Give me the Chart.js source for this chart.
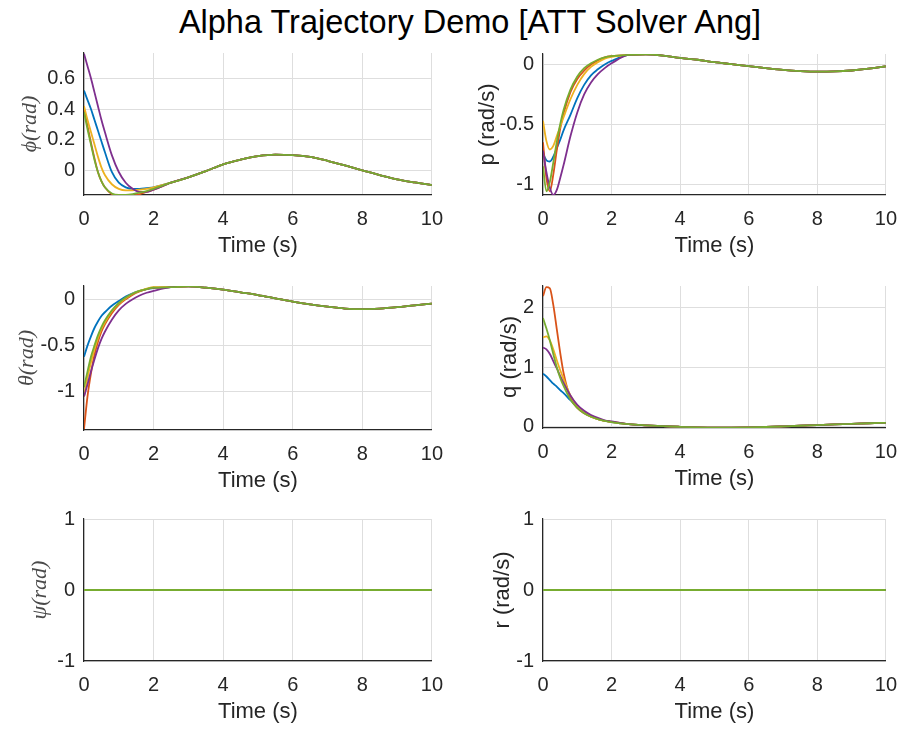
<!DOCTYPE html>
<html>
<head>
<meta charset="utf-8">
<script src="https://cdn.jsdelivr.net/npm/chart.js@4"></script>
<style>
  body { margin: 0; background: #fff; width: 909px; height: 730px; position: relative; overflow: hidden; }
  #fig-title { position: absolute; left: 0; top: 6px; width: 940px; text-align: center; font: 32.5px 'Liberation Sans', Arial, sans-serif; line-height: 32px; color: #000; }
  canvas { position: absolute; }
</style>
</head>
<body>
<div id="fig-title">Alpha Trajectory Demo [ATT Solver Ang]</div>
<canvas id="phi-chart"></canvas>
<canvas id="p-chart"></canvas>
<canvas id="theta-chart"></canvas>
<canvas id="q-chart"></canvas>
<canvas id="psi-chart"></canvas>
<canvas id="r-chart"></canvas>
<script>
// --- Time samples ---
const tHead = [0, 0.1, 0.2, 0.3, 0.4, 0.5, 0.6, 0.8, 1.0, 1.2, 1.4, 1.6, 1.8, 2.0];
const tTail = [2.5, 3, 3.5, 4, 4.5, 5, 5.5, 6, 6.5, 7, 7.5, 8, 8.5, 9, 9.5, 10];
const tFlat = [0, 10];

// --- Roll angle phi (rad) ---
const phiBlue   = [0.52, 0.46, 0.40, 0.33, 0.26, 0.19, 0.12, -0.01, -0.08, -0.11, -0.12, -0.12, -0.115, -0.11];
const phiOrange = [0.40, 0.29, 0.18, 0.08, -0.01, -0.07, -0.11, -0.155, -0.17, -0.17, -0.165, -0.155, -0.14, -0.125];
const phiYellow = [0.42, 0.33, 0.25, 0.17, 0.09, 0.02, -0.03, -0.09, -0.12, -0.13, -0.13, -0.125, -0.12, -0.11];
const phiPurple = [0.76, 0.68, 0.60, 0.51, 0.42, 0.33, 0.25, 0.10, -0.01, -0.08, -0.12, -0.14, -0.14, -0.125];
const phiGreen  = [0.38, 0.27, 0.17, 0.07, -0.01, -0.07, -0.11, -0.15, -0.16, -0.16, -0.155, -0.145, -0.135, -0.12];
const phiTail   = [-0.08, -0.045, -0.005, 0.04, 0.07, 0.093, 0.103, 0.1, 0.088, 0.063, 0.033, 0.0, -0.03, -0.058, -0.078, -0.095];

// --- Roll rate p (rad/s) ---
const pBlue   = [-0.74, -0.80, -0.81, -0.77, -0.70, -0.63, -0.55, -0.42, -0.28, -0.17, -0.09, -0.04, 0.0, 0.03];
const pOrange = [-0.65, -0.95, -1.06, -0.92, -0.72, -0.54, -0.41, -0.23, -0.12, -0.05, 0.0, 0.035, 0.06, 0.07];
const pYellow = [-0.47, -0.64, -0.71, -0.68, -0.60, -0.52, -0.44, -0.29, -0.17, -0.08, -0.02, 0.02, 0.05, 0.065];
const pPurple = [-0.72, -0.90, -1.03, -1.09, -1.05, -0.95, -0.84, -0.60, -0.40, -0.25, -0.15, -0.08, -0.03, 0.01];
const pGreen  = [-0.85, -1.06, -0.98, -0.82, -0.65, -0.50, -0.38, -0.21, -0.10, -0.03, 0.01, 0.04, 0.06, 0.07];
const pTail   = [0.08, 0.085, 0.075, 0.055, 0.04, 0.02, 0.003, -0.014, -0.03, -0.045, -0.055, -0.06, -0.058, -0.05, -0.035, -0.015];

// --- Pitch angle theta (rad) ---
const thBlue   = [-0.62, -0.50, -0.40, -0.31, -0.24, -0.18, -0.14, -0.07, -0.02, 0.03, 0.065, 0.09, 0.11, 0.12];
const thOrange = [-1.40, -1.05, -0.80, -0.60, -0.46, -0.35, -0.27, -0.15, -0.06, 0.0, 0.05, 0.085, 0.11, 0.125];
const thYellow = [-1.05, -0.85, -0.68, -0.54, -0.42, -0.32, -0.25, -0.13, -0.05, 0.01, 0.06, 0.09, 0.115, 0.13];
const thPurple = [-1.05, -0.92, -0.78, -0.65, -0.53, -0.43, -0.35, -0.22, -0.12, -0.05, 0.0, 0.04, 0.07, 0.09];
const thGreen  = [-0.95, -0.78, -0.62, -0.50, -0.39, -0.30, -0.23, -0.12, -0.04, 0.02, 0.06, 0.09, 0.11, 0.125];
const thTail   = [0.13, 0.138, 0.125, 0.105, 0.075, 0.045, 0.01, -0.025, -0.055, -0.08, -0.1, -0.107, -0.1, -0.085, -0.065, -0.047];

// --- Pitch rate q (rad/s) ---
const qBlue   = [0.89, 0.84, 0.78, 0.72, 0.67, 0.61, 0.56, 0.44, 0.33, 0.24, 0.17, 0.12, 0.09, 0.07];
const qOrange = [2.20, 2.35, 2.33, 2.05, 1.65, 1.25, 0.90, 0.48, 0.31, 0.22, 0.16, 0.12, 0.09, 0.075];
const qYellow = [1.50, 1.52, 1.45, 1.30, 1.12, 0.95, 0.80, 0.52, 0.34, 0.23, 0.16, 0.12, 0.09, 0.07];
const qPurple = [1.33, 1.30, 1.22, 1.10, 0.98, 0.85, 0.73, 0.52, 0.36, 0.26, 0.19, 0.14, 0.10, 0.08];
const qGreen  = [1.83, 1.65, 1.45, 1.22, 1.00, 0.82, 0.68, 0.45, 0.31, 0.22, 0.16, 0.12, 0.09, 0.07];
const qTail   = [0.035, 0.015, 0.0, -0.01, -0.018, -0.022, -0.022, -0.02, -0.013, -0.003, 0.008, 0.02, 0.03, 0.04, 0.05, 0.058];

// --- Yaw psi / r: every run stays at zero ---
const psiFlat = [0, 0];
const rFlat = [0, 0];

// --- Tick labels ---
const xTicks = [0, 2, 4, 6, 8, 10];
const phiTicks = [0, 0.2, 0.4, 0.6];
const pTicks = [-1, -0.5, 0];
const thTicks = [-1, -0.5, 0];
const qTicks = [0, 1, 2];
const flatTicks = [-1, 0, 1];

// MATLAB default line colours, in plot order
const runColors = ['#0072BD', '#D95319', '#EDB120', '#7E2F8E', '#77AC30'];

function runs(times, heads, tail) {
    const t = tail ? times.concat(tTail) : times;
    return heads.map((vals, i) => ({
        data: t.map((x, k) => ({ x: x, y: k < vals.length ? vals[k] : tail[k - vals.length] })),
        borderColor: runColors[i],
        borderWidth: 1.8,
        pointRadius: 0,
        cubicInterpolationMode: 'monotone',
        order: heads.length - i
    }));
}

// --- Panel layout (plot box in page pixels) ---
const panels = [
    { id: 'phi-chart', box: [84, 52, 432, 195], yMin: -0.16, yMax: 0.765, ticks: phiTicks, label: 'ϕ(rad)', math: true, labelX: 30,
      sets: runs(tHead, [phiBlue, phiOrange, phiYellow, phiPurple, phiGreen], phiTail) },
    { id: 'p-chart', box: [543, 53, 893, 195], yMin: -1.09, yMax: 0.088, ticks: pTicks, label: 'p (rad/s)', math: false, labelX: 33,
      sets: runs(tHead, [pBlue, pOrange, pYellow, pPurple, pGreen], pTail) },
    { id: 'theta-chart', box: [84, 285, 432, 430], yMin: -1.41, yMax: 0.143, ticks: thTicks, label: 'θ(rad)', math: true, labelX: 27,
      sets: runs(tHead, [thBlue, thOrange, thYellow, thPurple, thGreen], thTail) },
    { id: 'q-chart', box: [543, 285, 893, 428], yMin: -0.03, yMax: 2.37, ticks: qTicks, label: 'q (rad/s)', math: false, labelX: 55,
      sets: runs(tHead, [qBlue, qOrange, qYellow, qPurple, qGreen], qTail) },
    { id: 'psi-chart', box: [84, 518, 432, 661], yMin: -1, yMax: 1, ticks: flatTicks, label: 'ψ(rad)', math: true, labelX: 40,
      sets: runs(tFlat, [psiFlat, psiFlat, psiFlat, psiFlat, psiFlat], null) },
    { id: 'r-chart', box: [543, 518, 893, 661], yMin: -1, yMax: 1, ticks: flatTicks, label: 'r (rad/s)', math: false, labelX: 48,
      sets: runs(tFlat, [rFlat, rFlat, rFlat, rFlat, rFlat], null) }
];

const INK = '#262626';
const GRID = '#dedede';
const SANS = "'Liberation Sans', Arial, sans-serif";
const X_AXIS_H = 75;

panels.forEach(panel => {
    const [left, top, right, bottom] = panel.box;
    const colLeft = left < 455 ? 0 : 455;
    const colWidth = left < 455 ? 455 : 454;
    const canvasTop = top - 20;
    const canvasH = bottom + X_AXIS_H - canvasTop;

    const canvas = document.getElementById(panel.id);
    canvas.width = colWidth;
    canvas.height = canvasH;
    canvas.style.left = colLeft + 'px';
    canvas.style.top = canvasTop + 'px';

    const labelFont = panel.math
        ? { family: "'Liberation Serif', 'DejaVu Serif', serif", size: 22, style: 'italic' }
        : { family: SANS, size: 22 };

    new Chart(canvas.getContext('2d'), {
        type: 'line',
        data: { datasets: panel.sets },
        options: {
            responsive: false,
            animation: false,
            layout: { padding: { top: top - canvasTop, right: colLeft + colWidth - right, left: 0, bottom: 0 } },
            plugins: { legend: { display: false }, tooltip: { enabled: false } },
            scales: {
                x: {
                    type: 'linear', min: 0, max: 10,
                    afterBuildTicks: ax => { ax.ticks = xTicks.map(v => ({ value: v })); },
                    afterFit: ax => { ax.height = X_AXIS_H; },
                    grid: { color: GRID, drawTicks: false },
                    border: { color: INK, width: 1.2 },
                    ticks: { color: INK, font: { family: SANS, size: 20 }, padding: 12, maxRotation: 0, callback: v => String(v) },
                    title: { display: true, text: 'Time (s)', color: INK, font: { family: SANS, size: 22 }, padding: { top: 0, bottom: 11 } }
                },
                y: {
                    type: 'linear', min: panel.yMin, max: panel.yMax,
                    afterBuildTicks: ax => { ax.ticks = panel.ticks.map(v => ({ value: v })); },
                    afterFit: ax => { ax.width = left - colLeft; },
                    grid: { color: GRID, drawTicks: false },
                    border: { color: INK, width: 1.2 },
                    ticks: { color: INK, font: { family: SANS, size: 20 }, padding: 9, callback: v => String(v) },
                    title: { display: true, text: panel.label, color: panel.math ? '#4a4a4a' : INK, font: labelFont,
                             padding: { top: panel.labelX - 13.2, bottom: 0 } }
                }
            }
        }
    });
});
</script>
</body>
</html>
